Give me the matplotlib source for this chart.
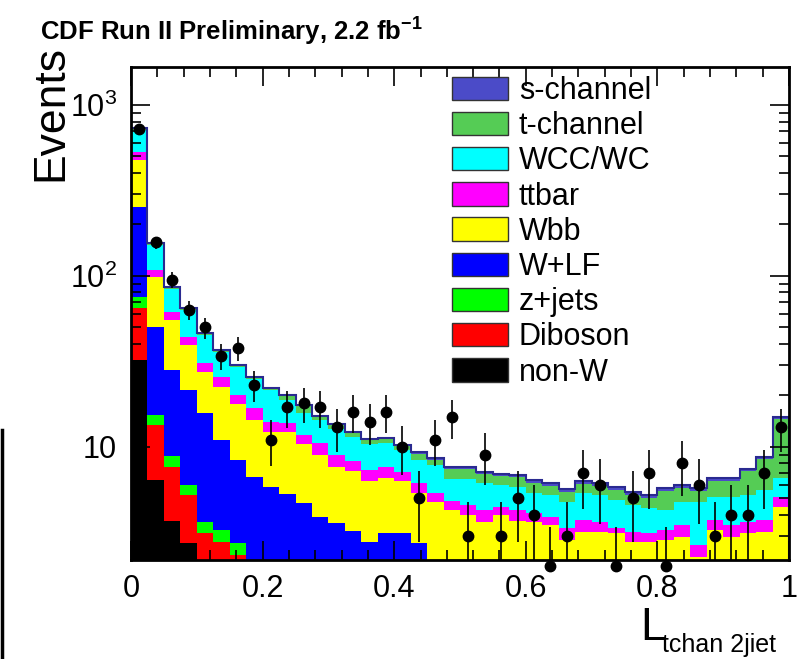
import numpy as np
import matplotlib
matplotlib.use("Agg")
import matplotlib.pyplot as plt
from matplotlib.patches import Patch
from matplotlib.lines import Line2D
from matplotlib.ticker import FixedLocator, LogLocator, NullFormatter

plt.rcParams['font.family'] = ['Liberation Sans', 'DejaVu Sans']
plt.rcParams['mathtext.fontset'] = 'custom'
plt.rcParams['mathtext.rm'] = 'Liberation Sans'
plt.rcParams['mathtext.it'] = 'Liberation Sans:italic'
plt.rcParams['mathtext.bf'] = 'Liberation Sans:bold'

# 40 bins of width 0.025 in L_tchan 2jet
edges = np.linspace(0.0, 1.0, 41)

nonw = [32.3, 6.4, 3.7, 2.75, 1.5, 1.2, 1.0, 0, 0, 0, 0, 0, 0, 0, 0, 0, 0, 0, 0, 0,
        0, 0, 0, 0, 0, 0, 0, 0, 0, 0, 0, 0, 0, 0, 0, 0, 0, 0, 0, 0]
diboson = [32.7, 7.0, 3.9, 2.5, 1.64, 1.58, 1.34, 0, 0, 0, 0, 0, 0, 0, 0, 0, 0, 0, 0, 0,
           0, 0, 0, 0, 0, 0, 0, 0, 0, 0, 0, 0, 0, 0, 0, 0, 0, 0, 0, 0]
zjets = [10.4, 1.9, 1.3, 0.76, 0.50, 0.49, 0.41, 0, 0, 0, 0, 0, 0, 0, 0, 0, 0, 0, 0, 0,
         0, 0, 0, 0, 0, 0, 0, 0, 0, 0, 0, 0, 0, 0, 0, 0, 0, 0, 0, 0]
wlf = [177.9, 34.9, 19.2, 15.5, 12.2, 7.7, 5.64, 6.68, 5.84, 5.31, 4.70, 3.90, 3.59, 3.23,
       2.78, 3.14, 3.14, 2.75, 0, 0, 0, 0, 0, 0, 0, 0, 0, 0, 0, 0, 0, 0, 0, 0, 0, 0, 0, 0, 0, 0]
wbb = [223.6, 48.4, 27.1, 18.0, 11.7, 11.4, 9.4, 7.70, 6.40, 6.93, 5.71, 5.08, 4.05, 4.01,
       3.55, 3.45, 3.19, 2.63, 4.77, 4.28, 4.00, 3.64, 4.00, 3.69, 3.64, 3.50, 2.86, 3.18,
       3.18, 3.14, 2.78, 2.78, 2.86, 2.98, 2.27, 3.27, 2.98, 3.14, 3.18, 4.46]
ttbar = [54.2, 9.7, 6.3, 4.5, 3.5, 3.3, 2.3, 2.53, 1.76, 1.57, 1.34, 1.57, 1.34, 1.04, 1.01,
         1.05, 0.81, 0.78, 0.61, 0.55, 0.58, 0.64, 0.46, 0.59, 0.47, 0.40, 0.50, 0.56, 0.46,
         0.22, 0.40, 0.36, 0.41, 0.52, 0.40, 0.47, 0.52, 0.50, 0.56, 0.64]
wcc = [186.6, 43.6, 22.3, 19.2, 14.1, 10.2, 9.25, 8.1, 7.5, 5.0, 4.05, 3.83, 3.77, 3.16,
       3.07, 2.91, 2.46, 2.23, 2.47, 1.67, 1.92, 1.88, 1.54, 1.56, 1.27, 1.34, 1.41, 1.64,
       1.60, 1.54, 1.40, 1.26, 1.01, 1.27, 2.10, 1.36, 1.60, 1.60, 1.86, 1.49]
tchan = [10, 2.5, 1.4, 1.1, 0.8, 0.6, 0.5, 0.45, 0.4, 1.1, 1.5, 0.6, 0.65, 0.6, 0.55, 0.55,
         0.5, 0.7, 0.55, 0.9, 0.9, 0.75, 0.73, 0.8, 0.8, 0.7, 0.7, 0.72, 0.7, 0.72, 0.67,
         0.64, 1.26, 1.0, 0.77, 1.25, 1.25, 1.95, 2.85, 8.0]
schan = [6, 1.5, 0.9, 0.7, 0.5, 0.4, 0.35, 0.25, 0.2, 0.2, 0.3, 0.22, 0.2, 0.2, 0.18, 0.18,
         0.17, 0.26, 0.22, 0.24, 0.24, 0.23, 0.22, 0.22, 0.23, 0.22, 0.21, 0.23, 0.22, 0.22,
         0.21, 0.2, 0.22, 0.23, 0.22, 0.24, 0.24, 0.25, 0.3, 0.4]

data = [728, 157, 95, 63, 50, 34, 38, 23, 11, 17, 18, 17, 13, 16, 14, 16, 10, 5, 11, 15,
        3, 9, 3, 5, 4, 2, 3, 7, 6, 2, 5, 7, 2, 8, 6, 3, 4, 4, 7, 13]

# bottom to top
stack = [
    ("non-W", nonw, "#000000"),
    ("Diboson", diboson, "#ff0000"),
    ("z+jets", zjets, "#00ff00"),
    ("W+LF", wlf, "#0000ff"),
    ("Wbb", wbb, "#ffff00"),
    ("ttbar", ttbar, "#ff00ff"),
    ("WCC/WC", wcc, "#00ffff"),
    ("t-channel", tchan, "#55cc55"),
    ("s-channel", schan, "#4b4bc8"),
]

fig = plt.figure(figsize=(8.06, 6.59), dpi=100)
ax = fig.add_axes([131 / 806, 1 - 560 / 659, 658 / 806, 493 / 659])

centers = 0.5 * (edges[:-1] + edges[1:])
width = edges[1] - edges[0]
bottom = np.zeros(len(centers))
for name, vals, col in stack:
    vals = np.asarray(vals, dtype=float)
    ax.bar(centers, vals, width=width, bottom=bottom, color=col, linewidth=0, align='center')
    bottom = bottom + vals

# thin dark line on top of the stack
ax.stairs(bottom, edges, color="#2a2a90", linewidth=1.5)

d = np.asarray(data, dtype=float)
ax.errorbar(centers, d, yerr=np.sqrt(d), xerr=0.006, fmt='none', ecolor='black',
            elinewidth=1.2, capsize=0, zorder=5)
# markers sitting on the lower edge stay visible, as in the original
ax.plot(centers, d, 'o', color='black', ms=7.5, zorder=6, clip_on=False)

ax.set_yscale('log')
ax.set_xlim(0, 1)
ax.set_ylim(2.18, 1667)

ax.set_xticks([0, 0.2, 0.4, 0.6, 0.8, 1.0])
ax.set_xticklabels(["0", "0.2", "0.4", "0.6", "0.8", "1"])
ax.xaxis.set_minor_locator(FixedLocator(np.arange(0, 1.0001, 0.04)))
ax.yaxis.set_major_locator(FixedLocator([10, 100, 1000]))
ax.set_yticklabels(["10", r"$\mathregular{10^{2}}$", r"$\mathregular{10^{3}}$"])
ax.yaxis.set_minor_locator(LogLocator(base=10, subs=np.arange(2, 10)))
ax.yaxis.set_minor_formatter(NullFormatter())

ax.tick_params(which='both', direction='in', top=True, right=True, labelsize=22, width=1.2)
ax.tick_params(which='major', length=14, pad=10)
ax.tick_params(which='minor', length=7)
for s in ax.spines.values():
    s.set_linewidth(2)

fig.text(40 / 806, 1 - 32 / 659, r"CDF Run II Preliminary, 2.2 fb$^{\mathbf{-1}}$",
         fontsize=18.5, fontweight='bold', va='center', ha='left')
fig.text(30 / 806, 1 - 45 / 659, "Events", rotation=90, fontsize=32, ha='left', va='top')
fig.text(640 / 806, 1 - 640 / 659, "L", fontsize=33, ha='left', va='baseline')
fig.text(662 / 806, 1 - 652 / 659, "tchan 2jiet", fontsize=18, ha='left', va='baseline')

handles = [Patch(facecolor=c, edgecolor='#333333', label=n) for n, v, c in stack[::-1]]
ax.legend(handles=handles, loc='upper left', bbox_to_anchor=(321 / 658, 1 - 9 / 493),
          frameon=False, fontsize=22, handlelength=1.83, handleheight=0.8,
          labelspacing=0.17, handletextpad=0.36, borderaxespad=0, borderpad=0)

# edge line of the original screenshot
fig.add_artist(Line2D([0.002, 0.002], [0, 1 - 430 / 659], color='black', lw=2.5))

fig.savefig("out.png", dpi=100)
